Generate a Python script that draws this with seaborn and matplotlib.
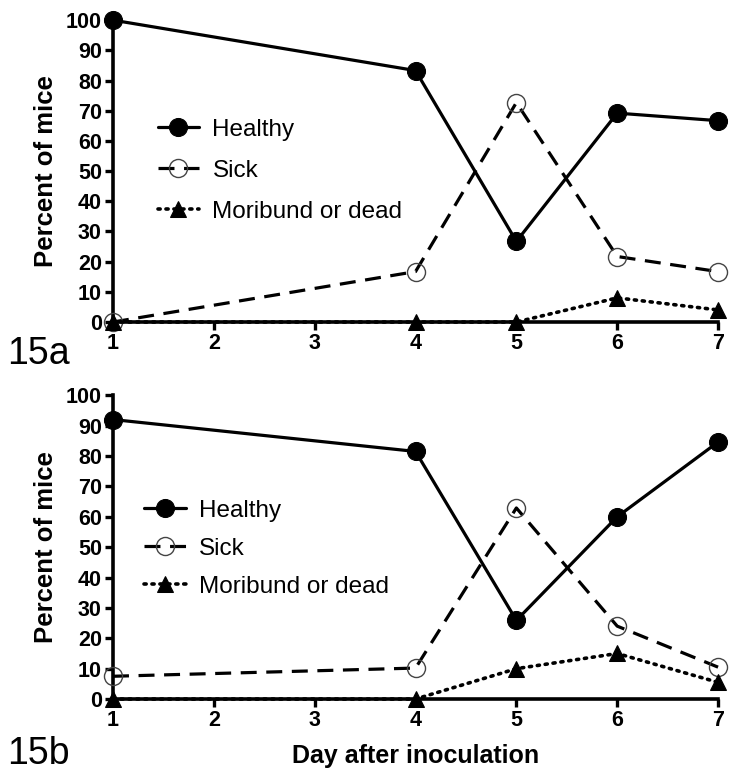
import matplotlib
matplotlib.use("Agg")
import matplotlib.pyplot as plt
import seaborn as sns
import pandas as pd

days = [1, 4, 5, 6, 7]

# Panel 15a
healthy_a = [100, 83.3, 26.7, 69.2, 66.7]
sick_a = [0, 16.7, 72.7, 21.7, 16.7]
moribund_a = [0, 0, 0, 8, 4]

# Panel 15b
healthy_b = [92, 81.5, 25.9, 60, 84.6]
sick_b = [7.5, 10.2, 62.9, 24, 10.5]
moribund_b = [0, 0, 10, 15, 5.5]

series_names = ["Healthy", "Sick", "Moribund or dead"]
panel_labels = ["15a", "15b"]
y_ticks = list(range(0, 101, 10))
x_ticks = [1, 2, 3, 4, 5, 6, 7]

sns.set_theme(style="ticks")
plt.rcParams["font.family"] = ["Liberation Sans Narrow", "Liberation Sans", "DejaVu Sans"]
for key in ["text.color", "axes.labelcolor", "xtick.color", "ytick.color", "axes.edgecolor"]:
    plt.rcParams[key] = "black"

fig = plt.figure(figsize=(7.29, 7.75), dpi=100)
left, width = 0.155, 0.830
ax_a = fig.add_axes([left, 0.5845, width, 0.3895])
ax_b = fig.add_axes([left, 0.098, width, 0.392])

styles = {
    "Healthy": dict(marker="o", markersize=13, markerfacecolor="black",
                    markeredgecolor="black", linestyle="-", linewidth=2.3),
    "Sick": dict(marker="o", markersize=13, markerfacecolor="none",
                 markeredgecolor="#444444", markeredgewidth=1.0,
                 linestyle=(0, (5, 3)), linewidth=2.3),
    "Moribund or dead": dict(marker="^", markersize=11, markerfacecolor="black",
                             markeredgecolor="black", linestyle=(0, (0.6, 1.6)),
                             linewidth=2.6, dash_capstyle="round"),
}

panels = [
    (ax_a, [healthy_a, sick_a, moribund_a], (0.058, 0.706), 0.78, -0.045),
    (ax_b, [healthy_b, sick_b, moribund_b], (0.036, 0.688), 0.66, -0.122),
]

for (ax, values, leg_anchor, spacing, label_y), label in zip(panels, panel_labels):
    for name, vals in zip(series_names, values):
        df = pd.DataFrame({"day": days, "pct": vals})
        sns.lineplot(data=df, x="day", y="pct", ax=ax, color="black",
                     label=name, clip_on=False, zorder=3, **styles[name])
    ax.set_xlim(1, 7)
    ax.set_ylim(0, 100)
    ax.set_xticks(x_ticks)
    ax.set_yticks(y_ticks)
    for s in ["top", "right"]:
        ax.spines[s].set_visible(False)
    for s in ["left", "bottom"]:
        ax.spines[s].set_linewidth(2.6)
        ax.spines[s].set_color("black")
        ax.spines[s].set_zorder(2)
    ax.tick_params(axis="both", width=2.4, length=6, color="black",
                   labelcolor="black", labelsize=15.5, pad=2)
    for t in ax.get_xticklabels() + ax.get_yticklabels():
        t.set_fontweight("bold")
    ax.set_ylabel("Percent of mice", fontsize=18.5, fontweight="bold", labelpad=6,
                  color="black", family=["Liberation Sans", "DejaVu Sans"])
    ax.set_xlabel("")
    ax.grid(False)
    leg = ax.legend(loc="upper left", bbox_to_anchor=leg_anchor, frameon=False,
                    fontsize=17.5, handlelength=1.7, handletextpad=0.55,
                    labelspacing=spacing, borderaxespad=0)
    for t in leg.get_texts():
        t.set_color("black")
    ax.text(-0.175, label_y, label, transform=ax.transAxes, fontsize=27,
            va="top", ha="left", color="black",
            family=["Liberation Sans", "DejaVu Sans"])

ax_b.set_xlabel("Day after inoculation", fontsize=18, fontweight="bold", labelpad=9,
                color="black", family=["Liberation Sans", "DejaVu Sans"])

fig.savefig("out.png", dpi=100)
